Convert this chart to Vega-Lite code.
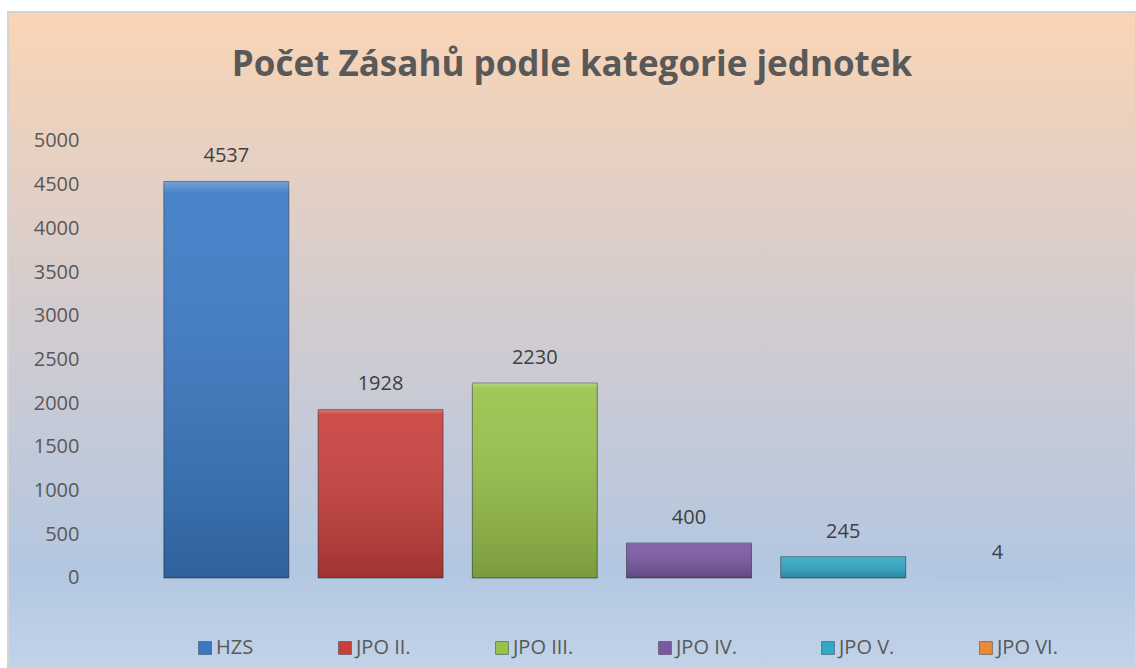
{
  "$schema": "https://vega.github.io/schema/vega-lite/v6.json",
  "width": 1128,
  "height": 656,
  "autosize": {"type": "none"},
  "padding": {"left": 8, "top": 12, "right": 0, "bottom": 0},
  "background": "#ffffff",
  "title": {
    "text": "Počet Zásahů podle kategorie jednotek",
    "font": "Open Sans",
    "fontSize": 35,
    "fontWeight": "bold",
    "color": "#595959",
    "anchor": "middle",
    "baseline": "alphabetic",
    "offset": -99
  },
  "config": {
    "view": {
      "stroke": "#d4d4d4",
      "strokeWidth": 2,
      "fill": {
        "gradient": "linear",
        "x1": 0, "y1": 0, "x2": 0, "y2": 1,
        "stops": [
          {"offset": 0, "color": "#FAD5B5"},
          {"offset": 0.45, "color": "#D3CCCF"},
          {"offset": 0.85, "color": "#B3C7E1"},
          {"offset": 1, "color": "#C1D3E8"}
        ]
      }
    },
    "font": "Open Sans"
  },
  "data": {
    "values": [
      {"kategorie": "HZS", "pocet": 4537},
      {"kategorie": "JPO II.", "pocet": 1928},
      {"kategorie": "JPO III.", "pocet": 2230},
      {"kategorie": "JPO IV.", "pocet": 400},
      {"kategorie": "JPO V.", "pocet": 245},
      {"kategorie": "JPO VI.", "pocet": 4}
    ]
  },
  "encoding": {
    "x": {
      "field": "kategorie",
      "type": "nominal",
      "sort": null,
      "axis": null,
      "scale": {"paddingInner": 0.19, "paddingOuter": 0.752, "align": 0.672}
    },
    "y": {
      "field": "pocet",
      "type": "quantitative",
      "scale": {"domain": [-1030, 6476], "nice": false, "zero": false},
      "axis": {
        "title": null,
        "values": [0, 500, 1000, 1500, 2000, 2500, 3000, 3500, 4000, 4500, 5000],
        "format": "d",
        "grid": false,
        "domain": false,
        "ticks": false,
        "tickSize": 0,
        "labelPadding": 0,
        "offset": -71,
        "labelFont": "Open Sans",
        "labelFontSize": 20,
        "labelColor": "#595959",
        "labelAlign": "right",
        "labelBaseline": "middle"
      }
    }
  },
  "layer": [
    {
      "mark": {"type": "bar", "stroke": "#1a1a1a", "strokeWidth": 1},
      "encoding": {
        "y2": {"datum": 0},
        "strokeOpacity": {"condition": {"test": "datum.pocet < 20", "value": 0}, "value": 0.5},
        "color": {
          "field": "kategorie",
          "type": "nominal",
          "sort": null,
          "scale": {
            "domain": ["HZS", "JPO II.", "JPO III.", "JPO IV.", "JPO V.", "JPO VI."],
            "range": ["#3A79C4", "#C83F3C", "#98C24A", "#7A58A3", "#33A9C6", "#EA8A3B"]
          },
          "legend": {
            "title": null,
            "orient": "none",
            "legendX": 187,
            "legendY": 626,
            "direction": "horizontal",
            "columns": 6,
            "padding": 0,
            "symbolType": "square",
            "symbolSize": 165,
            "symbolStrokeWidth": 1,
            "symbolStrokeColor": "rgba(0,0,0,0.35)",
            "labelFont": "Open Sans",
            "labelFontSize": 20,
            "labelColor": "#595959",
            "labelOffset": 1,
            "columnPadding": 81,
            "labelLimit": 200
          }
        }
      }
    },
    {
      "mark": {
        "type": "bar",
        "fill": {
          "gradient": "linear",
          "x1": 0, "y1": 0, "x2": 0, "y2": 1,
          "stops": [
            {"offset": 0, "color": "rgba(255,255,255,0.3)"},
            {"offset": 0.03, "color": "rgba(255,255,255,0.08)"},
            {"offset": 1, "color": "rgba(0,0,0,0.2)"}
          ]
        }
      },
      "encoding": {
        "y2": {"datum": 0}
      }
    },
    {
      "mark": {"type": "text", "dy": -25, "baseline": "middle", "align": "center", "font": "Open Sans", "fontSize": 20, "color": "#404040"},
      "encoding": {
        "text": {"field": "pocet", "type": "quantitative"}
      }
    }
  ]
}
